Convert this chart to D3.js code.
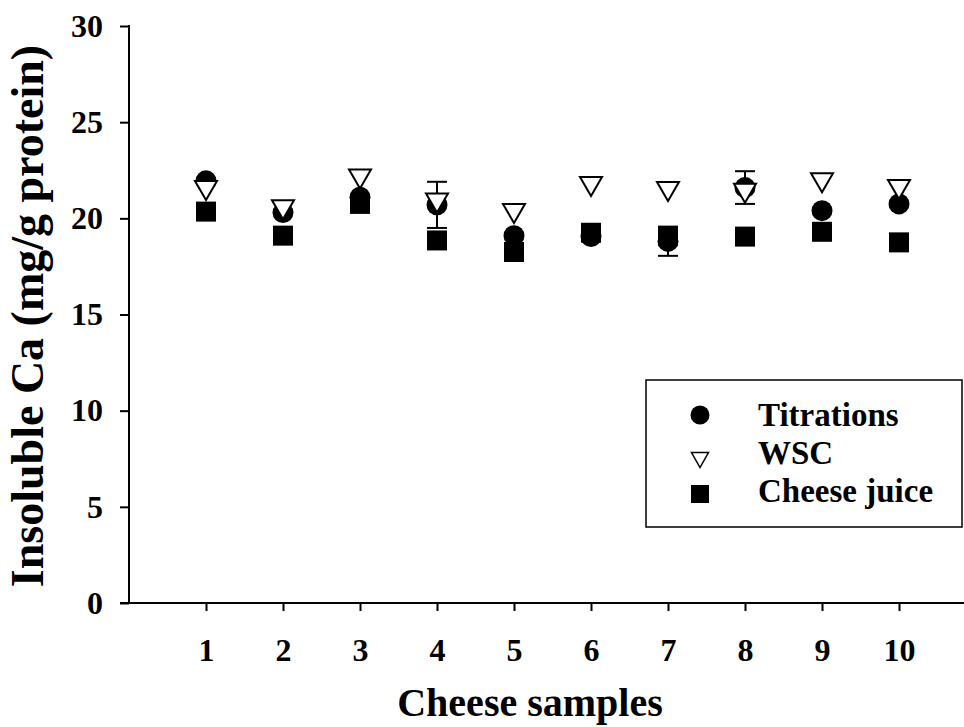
<html>
<head>
	<meta charset="utf-8">
	<style>
		body { margin: 0; background: #fff; }
		svg text { font-family: "Liberation Serif", "Times New Roman", serif; font-weight: bold; fill: #000; }
	</style>
</head>
<body>
	<script src="https://d3js.org/d3.v7.min.js"></script>
	<script>
	// cheese samples 1..10, insoluble Ca by three methods
	var samples = [1, 2, 3, 4, 5, 6, 7, 8, 9, 10];
	var titrations = [21.95, 20.3, 21.1, 20.7, 19.1, 19.05, 18.8, 21.6, 20.4, 20.75];
	var titrationErr = [0, 0, 0, 1.2, 0, 0, 0.75, 0.85, 0, 0];
	var wsc = [21.45, 20.45, 22.05, 20.8, 20.25, 21.65, 21.4, 21.3, 21.85, 21.5];
	var cheeseJuice = [20.35, 19.1, 20.75, 18.85, 18.25, 19.25, 19.1, 19.05, 19.3, 18.75];
	var yTicks = [0, 5, 10, 15, 20, 25, 30];
	var legendNames = ["Titrations", "WSC", "Cheese juice"];

	var W = 964, H = 727;
	var svg = d3.select("body").append("svg")
		.attr("width", W)
		.attr("height", H);

	var x = d3.scaleLinear().domain([0, 11]).range([129, 976]);
	var y = d3.scaleLinear().domain([0, 30]).range([603, 26]);

	// y axis
	var yAxis = svg.append("g")
		.attr("transform", "translate(129,0)")
		.call(d3.axisLeft(y).tickValues(yTicks).tickSize(9).tickSizeOuter(0).tickPadding(17));
	yAxis.select(".domain").remove();
	yAxis.selectAll("line").attr("stroke-width", 2);
	yAxis.selectAll("text").attr("font-size", 32).attr("font-family", null);
	svg.append("line")
		.attr("x1", 129).attr("x2", 129)
		.attr("y1", y(30) - 1).attr("y2", y(0))
		.attr("stroke", "#000").attr("stroke-width", 2);

	// x axis
	var xAxis = svg.append("g")
		.attr("transform", "translate(0,603)")
		.call(d3.axisBottom(x).tickValues(samples).tickSize(8).tickSizeOuter(0).tickPadding(27));
	xAxis.select(".domain").remove();
	xAxis.selectAll("line").attr("stroke-width", 2);
	xAxis.selectAll("text").attr("font-size", 32).attr("font-family", null);
	svg.append("line")
		.attr("x1", 120).attr("x2", W)
		.attr("y1", 603).attr("y2", 603)
		.attr("stroke", "#000").attr("stroke-width", 2);

	// axis titles
	svg.append("text")
		.attr("x", 530).attr("y", 716)
		.attr("text-anchor", "middle")
		.attr("font-size", 40)
		.text("Cheese samples");
	svg.append("text")
		.attr("transform", "translate(43,316) rotate(-90)")
		.attr("text-anchor", "middle")
		.attr("font-size", 46)
		.text("Insoluble Ca (mg/g protein)");

	var triPath = "M-11,-9.5L11,-9.5L0,9.5Z";

	// error bars for titrations
	var eb = svg.append("g");
	samples.forEach(function(s, i) {
		var e = titrationErr[i];
		if (!e) return;
		var cx = x(s), y1 = y(titrations[i] + e), y2 = y(titrations[i] - e);
		eb.append("line").attr("x1", cx).attr("x2", cx).attr("y1", y1).attr("y2", y2)
			.attr("stroke", "#000").attr("stroke-width", 2);
		[y1, y2].forEach(function(yy) {
			eb.append("line").attr("x1", cx - 10).attr("x2", cx + 10).attr("y1", yy).attr("y2", yy)
				.attr("stroke", "#000").attr("stroke-width", 2);
		});
	});

	// circles
	svg.append("g").selectAll("circle").data(samples).enter()
		.append("circle")
		.attr("cx", function(d) { return x(d); })
		.attr("cy", function(d, i) { return y(titrations[i]); })
		.attr("r", 10.5)
		.attr("fill", "#000");

	// squares
	svg.append("g").selectAll("rect").data(samples).enter()
		.append("rect")
		.attr("x", function(d) { return x(d) - 10; })
		.attr("y", function(d, i) { return y(cheeseJuice[i]) - 10; })
		.attr("width", 20).attr("height", 20)
		.attr("fill", "#000");

	// triangles
	svg.append("g").selectAll("path").data(samples).enter()
		.append("path")
		.attr("d", triPath)
		.attr("transform", function(d, i) { return "translate(" + x(d) + "," + y(wsc[i]) + ")"; })
		.attr("fill", "#fff")
		.attr("stroke", "#000")
		.attr("stroke-width", 2);

	// legend
	var lg = svg.append("g");
	lg.append("rect")
		.attr("x", 646).attr("y", 380)
		.attr("width", 316).attr("height", 147)
		.attr("fill", "#fff").attr("stroke", "#000").attr("stroke-width", 1.5);
	var ly = [415, 460, 494];
	var lBase = [426, 464, 502];
	lg.append("circle").attr("cx", 700).attr("cy", ly[0]).attr("r", 9.5).attr("fill", "#000");
	lg.append("path").attr("d", "M-8.5,-7.5L8.5,-7.5L0,7.5Z")
		.attr("transform", "translate(700," + ly[1] + ")")
		.attr("fill", "#fff").attr("stroke", "#000").attr("stroke-width", 1.5);
	lg.append("rect").attr("x", 691).attr("y", ly[2] - 9).attr("width", 18).attr("height", 18).attr("fill", "#000");
	legendNames.forEach(function(n, i) {
		lg.append("text")
			.attr("x", 758).attr("y", lBase[i])
			.attr("font-size", 33)
			.text(n);
	});
	</script>
</body>
</html>
